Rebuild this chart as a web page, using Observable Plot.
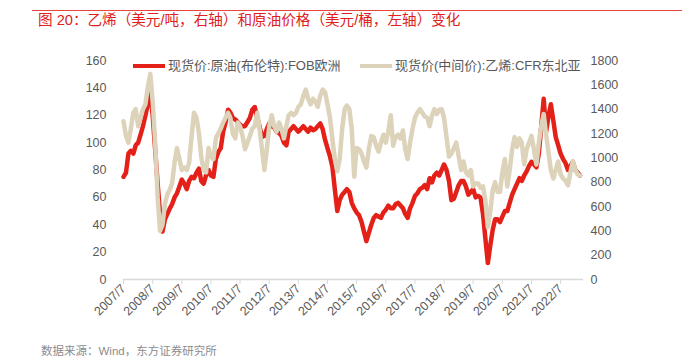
<!DOCTYPE html>
<html><head><meta charset="utf-8">
<script src="https://cdn.jsdelivr.net/npm/d3@7"></script>
<script src="https://cdn.jsdelivr.net/npm/@observablehq/plot@0.6"></script>
<style>
body{margin:0;background:#fff;font-family:"Liberation Sans","Noto Sans CJK SC",sans-serif;}
#wrap{position:relative;width:689px;height:364px;overflow:hidden;background:#fff;}
#rule{position:absolute;left:32px;top:10px;width:650px;height:0;border-top:1.5px solid #e8453f;}
#title{position:absolute;left:38px;top:12px;font-size:14.6px;line-height:16px;color:#e0201b;white-space:nowrap;}
#chart{position:absolute;left:0;top:0;}
.leg{position:absolute;top:58px;font-size:13px;line-height:16px;color:#595959;white-space:nowrap;}
.sw{position:absolute;top:64px;height:4px;width:32px;}
#source{position:absolute;left:41px;top:344px;font-size:11.5px;line-height:14px;color:#8c8c8c;white-space:nowrap;}
</style></head>
<body>
<div id="wrap">
  <div id="rule"></div>
  <div id="title">图 20：乙烯（美元/吨，右轴）和原油价格（美元/桶，左轴）变化</div>
  <div id="chart"></div>
  <div class="sw" style="left:133px;background:#e32119;"></div>
  <div class="leg" style="left:168px;">现货价:原油(布伦特):FOB欧洲</div>
  <div class="sw" style="left:360px;background:#ddd2ba;"></div>
  <div class="leg" style="left:395px;">现货价(中间价):乙烯:CFR东北亚</div>
  <div id="source">数据来源：Wind，东方证券研究所</div>
</div>
<script>
// Monthly series starting 2007/7 (as positioned on the chart's axis)
const startLabel = "2007/7";
const brent = [
 75,78,92,94,92,98,100,106,112,120,128,136,
 120,95,70,48,35,44,48,52,55,60,63,68,
 73,70,66,72,75,74,78,81,72,70,76,80,
 76,75,88,93,96,108,115,124,122,118,117,115,
 113,112,112,115,118,124,126,118,112,104,105,110,
 114,112,111,108,107,105,100,98,108,110,112,110,
 108,110,112,110,108,111,109,110,112,114,110,102,
 96,90,82,66,50,58,62,64,66,64,56,52,
 49,47,42,35,28,34,40,45,47,46,45,49,
 51,54,52,52,55,56,54,52,48,45,52,56,
 61,63,66,67,69,66,74,71,76,78,76,80,
 84,80,72,58,59,64,69,72,72,68,62,64,
 66,60,61,60,48,30,12,25,36,44,44,42,
 46,50,50,56,62,66,70,74,72,76,79,83,
 86,84,82,92,112,132,108,120,128,116,104,98,
 92,88,85,80,83,86,80,78,76
];
const ethylene = [
 1300,1180,1125,1240,1370,1400,1260,1330,1400,1440,1580,1690,
 1460,1125,675,400,450,620,700,740,790,960,1080,990,
 900,920,900,960,1180,1370,1330,1200,1010,900,880,1080,
 1010,990,1160,1200,1240,1290,1330,1370,1330,1200,1160,1290,
 1260,1180,1070,1125,1180,1240,1260,1370,1240,1070,900,1070,
 1260,1350,1260,1215,1290,1240,1160,1260,1350,1370,1350,1370,
 1420,1440,1510,1560,1485,1440,1485,1460,1420,1510,1560,1540,
 1440,1330,1150,990,890,990,1240,1400,1430,1400,1240,845,
 1080,1070,1035,970,920,1070,1180,1170,1100,1050,1125,1190,
 1125,1215,1350,1100,1170,1190,1160,1225,1070,990,1125,1240,
 1330,1370,1400,1370,1340,1330,1260,1350,1400,1360,1395,1400,
 1330,1170,1010,1035,1080,1125,1010,900,970,880,855,900,
 765,790,790,755,765,650,430,560,730,800,720,720,
 880,990,765,900,1070,1170,1090,1160,1125,945,1070,1125,
 1180,1070,945,1125,1260,1360,1190,1035,900,830,900,970,
 865,830,810,775,880,970,900,865,855
];
const xTickLabels = ["2007/7","2008/7","2009/7","2010/7","2011/7","2012/7","2013/7","2014/7",
  "2015/7","2016/7","2017/7","2018/7","2019/7","2020/7","2021/7","2022/7"];
const leftTicks = [0,20,40,60,80,100,120,140,160];
const rightTicks = [0,200,400,600,800,1000,1200,1400,1600,1800];
const ratio = 1800/160;

const parseLabel = s => { const [y,m] = s.split("/").map(Number); return new Date(Date.UTC(y, m-1, 1)); };
const t0 = parseLabel(startLabel);
const data = brent.map((b,i) => ({
  date: new Date(Date.UTC(t0.getUTCFullYear(), t0.getUTCMonth()+i, 1)),
  brent: b, eth: ethylene[i]
}));
const tickDates = xTickLabels.map(parseLabel);
const labelOf = new Map(tickDates.map((d,i)=>[+d, xTickLabels[i]]));

const chart = Plot.plot({
  width: 689, height: 364,
  marginTop: 60, marginBottom: 85, marginLeft: 123, marginRight: 106,
  x: {type: "utc", domain: [t0, new Date(Date.UTC(2023,3,14))], label: null},
  y: {domain: [0,160], label: null},
  style: {fontFamily: '"Liberation Sans","Noto Sans CJK SC",sans-serif', fontSize: "12.5px", color: "#595959", background: "transparent"},
  marks: [
    Plot.ruleY([0], {stroke: "#d9d9d9", strokeWidth: 1.5}),
    Plot.axisX({ticks: tickDates, tickFormat: d => labelOf.get(+d), tickRotate: -45, tickSize: 5, tickPadding: 2, stroke: "#d9d9d9", fill: "#595959", fontSize: 12.5, label: null}),
    Plot.axisY({ticks: leftTicks, anchor: "left", tickSize: 0, tickPadding: 17, fill: "#595959", fontSize: 12.5, label: null}),
    Plot.axisY({ticks: rightTicks.map(v => v/ratio), tickFormat: d => String(Math.round(d*ratio)), anchor: "right", tickSize: 0, tickPadding: 7, fill: "#595959", fontSize: 12.5, label: null}),
    Plot.line(data, {x: "date", y: "brent", stroke: "#e32119", strokeWidth: 4.5, strokeLinejoin: "round"}),
    Plot.line(data, {x: "date", y: d => d.eth/ratio, stroke: "#ddd2ba", strokeWidth: 4.5, strokeLinejoin: "round"})
  ]
});
document.getElementById("chart").appendChild(chart);
</script>
</body></html>
